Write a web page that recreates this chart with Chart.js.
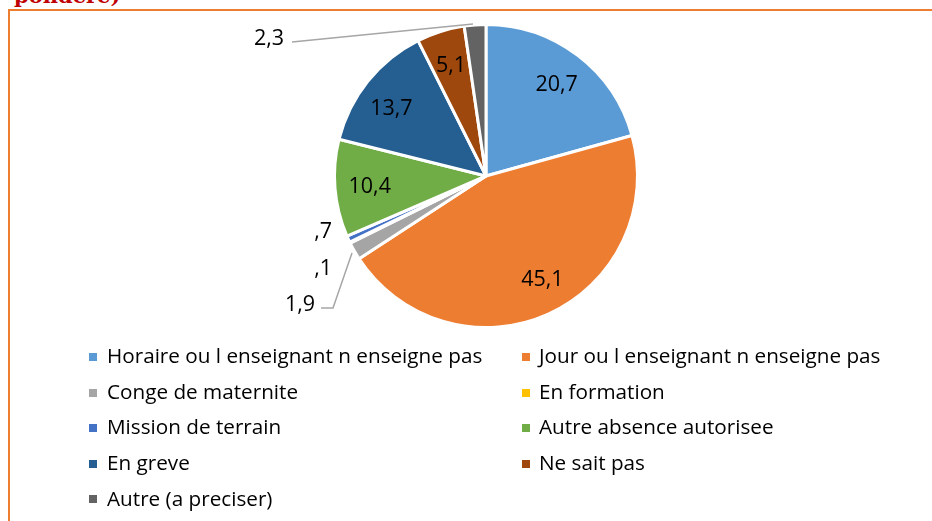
<!DOCTYPE html>
<html><head><meta charset="utf-8">
<script src="https://cdn.jsdelivr.net/npm/chart.js@4"></script>
<style>
html,body{margin:0;padding:0;background:#fff;width:932px;height:521px;overflow:hidden;font-family:"Open Sans",sans-serif;}
#frame{position:absolute;left:8px;top:9px;width:1000px;height:600px;border:2px solid #ED7D31;box-sizing:border-box;}
#title{position:absolute;left:14px;top:-15px;font:bold 21px "DejaVu Serif",serif;color:#C00000;line-height:21px;white-space:nowrap;}
#wrap{position:absolute;left:0;top:0;width:932px;height:340px;}
#legend{position:absolute;left:0;top:0;width:932px;height:521px;}
.li{position:absolute;font-size:20.7px;line-height:24px;color:#000;white-space:nowrap;font-family:"Open Sans",sans-serif;}
.box{position:absolute;width:8px;height:8px;}
</style></head>
<body>
<div id="title">pondéré)</div>
<div id="frame"></div>
<div id="wrap"><canvas id="c"></canvas></div>
<div id="legend"></div>
<script>
const categories = [
  "Horaire ou l enseignant n enseigne pas",
  "Jour ou l enseignant n enseigne pas",
  "Conge de maternite",
  "En formation",
  "Mission de terrain",
  "Autre absence autorisee",
  "En greve",
  "Ne sait pas",
  "Autre (a preciser)"
];
const values = [20.7, 45.1, 1.9, 0.1, 0.7, 10.4, 13.7, 5.1, 2.3];
const colors = ["#5B9BD5","#ED7D31","#A5A5A5","#FFC000","#4472C4","#70AD47","#255E91","#9E480E","#636363"];

function fmt(v){ let s = v.toFixed(1).replace('.', ','); if (s.startsWith('0')) s = s.slice(1); return s; }

const labelPlugin = {
  id: 'sliceLabels',
  afterDatasetsDraw(chart, args, opts) {
    const ctx = chart.ctx;
    const meta = chart.getDatasetMeta(0);
    const data = chart.data.datasets[0].data;
    ctx.save();
    ctx.font = opts.fontSize + 'px ' + opts.fontFamily;
    ctx.fillStyle = opts.color;
    ctx.textBaseline = 'alphabetic';
    const half = opts.fontSize * 0.714 / 2;
    meta.data.forEach((arc, i) => {
      const p = arc.getProps(['x','y','startAngle','endAngle','outerRadius'], true);
      const txt = fmt(data[i]);
      const out = opts.outside[i];
      if (out) {
        if (out.line) {
          ctx.strokeStyle = opts.lineColor; ctx.lineWidth = opts.lineWidth;
          ctx.beginPath();
          out.line.forEach((q, k) => { const X = p.x + q[0], Y = p.y + q[1]; k ? ctx.lineTo(X, Y) : ctx.moveTo(X, Y); });
          ctx.stroke();
        }
        ctx.textAlign = out.align || 'center';
        ctx.fillText(txt, p.x + out.at[0], p.y + out.at[1] + half);
      } else {
        const mid = (p.startAngle + p.endAngle) / 2 + (opts.turn[i] || 0);
        const r = p.outerRadius * opts.inside;
        ctx.textAlign = 'center';
        ctx.fillText(txt, p.x + Math.cos(mid) * r, p.y + Math.sin(mid) * r + half);
      }
    });
    ctx.restore();
  }
};

const chart = new Chart(document.getElementById('c'), {
  type: 'pie',
  data: { labels: categories, datasets: [{ data: values, backgroundColor: colors, borderColor: '#ffffff', borderWidth: 3, hoverBorderWidth: 3, hoverOffset: 0, offset: 0, radius: 151.5 }] },
  options: {
    responsive: true, maintainAspectRatio: false, animation: false,
    layout: { padding: { left: 40, right: 0, top: 23, bottom: 11 } },
    plugins: {
      legend: { display: false }, tooltip: { enabled: false },
      sliceLabels: {
        fontSize: 21.5, fontFamily: '"Open Sans", sans-serif', color: '#000000',
        lineColor: '#A6A6A6', lineWidth: 1.5, inside: 0.77,
        turn: { 1: -0.08, 6: -0.05 },
        outside: {
          2: { at: [-186, 127], line: [[-165, 132], [-153, 132], [-134, 77]] },
          3: { at: [-154, 91], align: 'right' },
          4: { at: [-154, 54], align: 'right' },
          8: { at: [-217, -139], line: [[-194, -134], [-13, -152]] }
        }
      }
    }
  },
  plugins: [labelPlugin]
});

// legend in two columns built from the chart's legend items
const legendEl = document.getElementById('legend');
const items = chart.options.plugins.legend.labels.generateLabels(chart);
const colBox = [89, 522], colText = [107, 539];
items.forEach((it, i) => {
  const col = i % 2, row = Math.floor(i / 2);
  const baseline = 363.5 + row * 35.6;
  const b = document.createElement('div');
  b.className = 'box'; b.style.background = it.fillStyle;
  b.style.left = colBox[col] + 'px'; b.style.top = (baseline - 10.5) + 'px';
  legendEl.appendChild(b);
  const t = document.createElement('div');
  t.className = 'li'; t.textContent = it.text;
  t.style.left = colText[col] + 'px'; t.style.top = (baseline - 20.3) + 'px';
  legendEl.appendChild(t);
});
</script>
</body></html>
